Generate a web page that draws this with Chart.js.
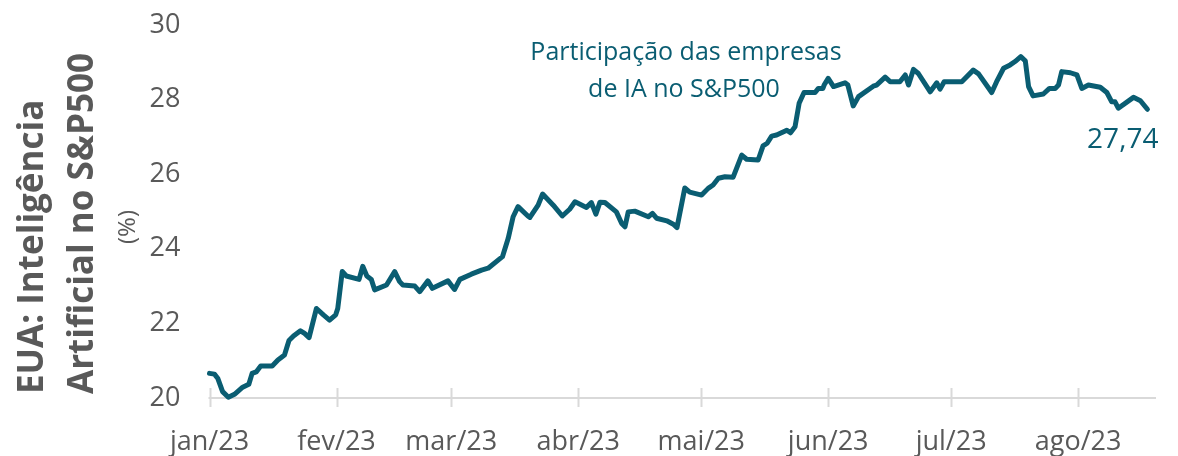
<!DOCTYPE html>
<html>
<head>
<meta charset="utf-8">
<script src="https://cdn.jsdelivr.net/npm/chart.js@4"></script>
<style>
  html, body { margin: 0; padding: 0; background: #ffffff; }
  #wrap { width: 1178px; height: 456px; position: relative; }
</style>
</head>
<body>
<div id="wrap"><canvas id="c" width="1178" height="456"></canvas></div>
<script>
// Days elapsed since 1 Jan 2023 for each observation
const days = [0, 1.2, 2.0, 3.2, 4.6, 6.1, 8.1, 9.6, 10.4, 11.4, 12.5, 15.3, 16.7, 18.3, 19.4, 20.5,
  22.2, 23.2, 24.3, 26.1, 27.8, 29.3, 30.8, 31.3, 32.4, 33.4, 36.5, 37.4, 38.4, 39.5, 40.3,
  43.2, 45.2, 46.4, 47.2, 50.1, 51.3, 53.3, 54.4, 58.2, 59.8, 61.1, 63.9, 66.4, 68.0, 71.5,
  72.9, 74.1, 75.3, 77.7, 78.2, 80.2, 81.3, 83.9, 86.1, 87.9, 89.2, 92.0, 93.2, 94.3, 95.3,
  96.5, 99.3, 100.6, 101.4, 102.2, 103.8, 107.1, 108.1, 109.1, 111.6, 113.2, 114.1, 116.0,
  117.2, 120.1, 121.7, 122.9, 124.2, 125.8, 127.8, 129.9, 131.1, 133.9, 135.1, 136.1, 137.2,
  138.4, 140.9, 141.8, 142.9, 143.9, 145.1, 147.8, 148.6, 149.7, 150.0, 151.0, 152.3, 155.1,
  155.8, 157.1, 158.4, 162.0, 162.8, 164.9, 166.1, 168.5, 169.8, 170.6, 171.8, 173.0, 175.9,
  177.5, 178.3, 179.3, 183.6, 186.4, 187.7, 190.9, 192.1, 193.8, 195.4, 196.6, 198.0, 199.1,
  199.9, 201.0, 203.5, 205.0, 206.4, 207.2, 208.0, 210.1, 211.7, 212.9, 214.5, 217.4, 219.0,
  220.2, 221.0, 221.8, 225.5, 227.2, 228.9];

// Share of AI companies in the S&P500 (%)
const values = [20.66, 20.64, 20.53, 20.17, 20.02, 20.10, 20.29, 20.37, 20.66, 20.70, 20.86, 20.86,
  21.02, 21.15, 21.54, 21.66, 21.80, 21.73, 21.62, 22.40, 22.23, 22.09, 22.23, 22.40, 23.39,
  23.27, 23.18, 23.53, 23.27, 23.18, 22.90, 23.03, 23.39, 23.12, 23.03, 23.00, 22.85, 23.14,
  22.94, 23.14, 22.91, 23.18, 23.32, 23.43, 23.48, 23.79, 24.28, 24.86, 25.13, 24.88, 24.84,
  25.17, 25.47, 25.17, 24.88, 25.06, 25.26, 25.11, 25.24, 24.93, 25.25, 25.24, 24.99, 24.68,
  24.59, 24.99, 25.01, 24.86, 24.95, 24.82, 24.75, 24.66, 24.57, 25.63, 25.52, 25.44, 25.62,
  25.71, 25.89, 25.93, 25.92, 26.51, 26.40, 26.38, 26.76, 26.83, 27.02, 27.05, 27.18, 27.11,
  27.27, 27.90, 28.19, 28.19, 28.30, 28.30, 28.39, 28.57, 28.35, 28.45, 28.39, 27.83, 28.08,
  28.36, 28.39, 28.60, 28.48, 28.48, 28.66, 28.39, 28.81, 28.70, 28.21, 28.45, 28.28, 28.48,
  28.48, 28.79, 28.69, 28.19, 28.48, 28.84, 28.93, 29.02, 29.15, 29.04, 28.35, 28.10, 28.15,
  28.30, 28.30, 28.39, 28.75, 28.72, 28.66, 28.30, 28.39, 28.33, 28.19, 27.94, 27.94, 27.77,
  28.06, 27.97, 27.74];

// X-axis ticks: first day of each month (days since 1 Jan 2023) and their labels
const monthTicks = [0, 31, 59, 90, 120, 151, 181, 212];
const monthLabels = ['jan/23', 'fev/23', 'mar/23', 'abr/23', 'mai/23', 'jun/23', 'jul/23', 'ago/23'];

// Y-axis ticks
const yTicks = [20, 22, 24, 26, 28, 30];

const titleLines = ['EUA: Inteligência', 'Artificial no S&P500'];
const unitLabel = '(%)';
const seriesLabel = ['Participação das empresas', 'de IA no S&P500'];

const TEAL = '#0a5d72';
const GRAY = '#595959';
const AXIS = '#d9d9d9';
const FONT = "'Open Sans', 'Noto Sans', sans-serif";

const points = days.map((d, i) => ({ x: d, y: values[i] }));

const decor = {
  id: 'decor',
  beforeDatasetsDraw(chart) {
    const ctx = chart.ctx;
    const xs = chart.scales.x;
    const ys = chart.scales.y;
    const yb = ys.getPixelForValue(20);
    ctx.save();
    ctx.strokeStyle = AXIS;
    ctx.lineWidth = 2;
    ctx.beginPath();
    ctx.moveTo(xs.getPixelForValue(0) - 1, yb);
    ctx.lineTo(chart.chartArea.right, yb);
    ctx.stroke();
    monthTicks.forEach(t => {
      const px = Math.round(xs.getPixelForValue(t)) + 0.5;
      ctx.beginPath();
      ctx.moveTo(px, yb - 10);
      ctx.lineTo(px, yb + 9);
      ctx.stroke();
    });
    ctx.restore();
  },
  afterDraw(chart) {
    const ctx = chart.ctx;
    ctx.save();
    // Y-axis title (rotated, left-aligned from the bottom)
    ctx.fillStyle = GRAY;
    ctx.textBaseline = 'middle';
    ctx.translate(0, 394);
    ctx.rotate(-Math.PI / 2);
    ctx.textAlign = 'left';
    ctx.font = 'bold 35px ' + FONT;
    ctx.fillText(titleLines[0], 0, 33);
    ctx.fillText(titleLines[1], 0, 83);
    ctx.textAlign = 'center';
    ctx.font = '24px ' + FONT;
    ctx.fillText(unitLabel, 394 - 227, 128);
    ctx.restore();

    // Series annotation
    ctx.save();
    ctx.fillStyle = TEAL;
    ctx.textAlign = 'center';
    ctx.textBaseline = 'middle';
    ctx.font = '25px ' + FONT;
    ctx.fillText(seriesLabel[0], 686, 53);
    ctx.fillText(seriesLabel[1], 684, 90);

    // Last value label
    const xs = chart.scales.x;
    const ys = chart.scales.y;
    const last = values.length - 1;
    const lx = xs.getPixelForValue(days[last]);
    const ly = ys.getPixelForValue(values[last]);
    ctx.textAlign = 'right';
    ctx.font = '28px ' + FONT;
    ctx.fillText(values[last].toFixed(2).replace('.', ','), lx + 11, ly + 31);
    ctx.restore();
  }
};

new Chart(document.getElementById('c'), {
  type: 'line',
  data: {
    datasets: [{
      data: points,
      borderColor: TEAL,
      borderWidth: 5,
      pointRadius: 0,
      tension: 0,
      fill: false,
      clip: false,
      borderJoinStyle: 'round',
      borderCapStyle: 'round'
    }]
  },
  options: {
    responsive: false,
    animation: false,
    devicePixelRatio: 1,
    layout: { padding: { left: 0, right: 22, top: 25, bottom: 0 } },
    plugins: { legend: { display: false }, tooltip: { enabled: false } },
    scales: {
      x: {
        type: 'linear',
        min: 0,
        max: 231,
        grid: { display: false, drawTicks: false },
        border: { display: false },
        afterBuildTicks(scale) { scale.ticks = monthTicks.map(v => ({ value: v })); },
        afterFit(scale) { scale.height = 58; scale.paddingLeft = 0; scale.paddingRight = 0; },
        ticks: {
          autoSkip: false,
          maxRotation: 0,
          padding: 28,
          color: GRAY,
          font: { family: FONT, size: 27 },
          callback(value) {
            const i = monthTicks.indexOf(value);
            return i >= 0 ? monthLabels[i] : '';
          }
        }
      },
      y: {
        min: 20,
        max: 30,
        grid: { display: false, drawTicks: false },
        border: { display: false },
        afterBuildTicks(scale) { scale.ticks = yTicks.map(v => ({ value: v })); },
        afterFit(scale) { scale.width = 209.5; scale.paddingTop = 0; scale.paddingBottom = 0; },
        ticks: {
          padding: 29,
          color: GRAY,
          font: { family: FONT, size: 27 }
        }
      }
    }
  },
  plugins: [decor]
});
</script>
</body>
</html>
